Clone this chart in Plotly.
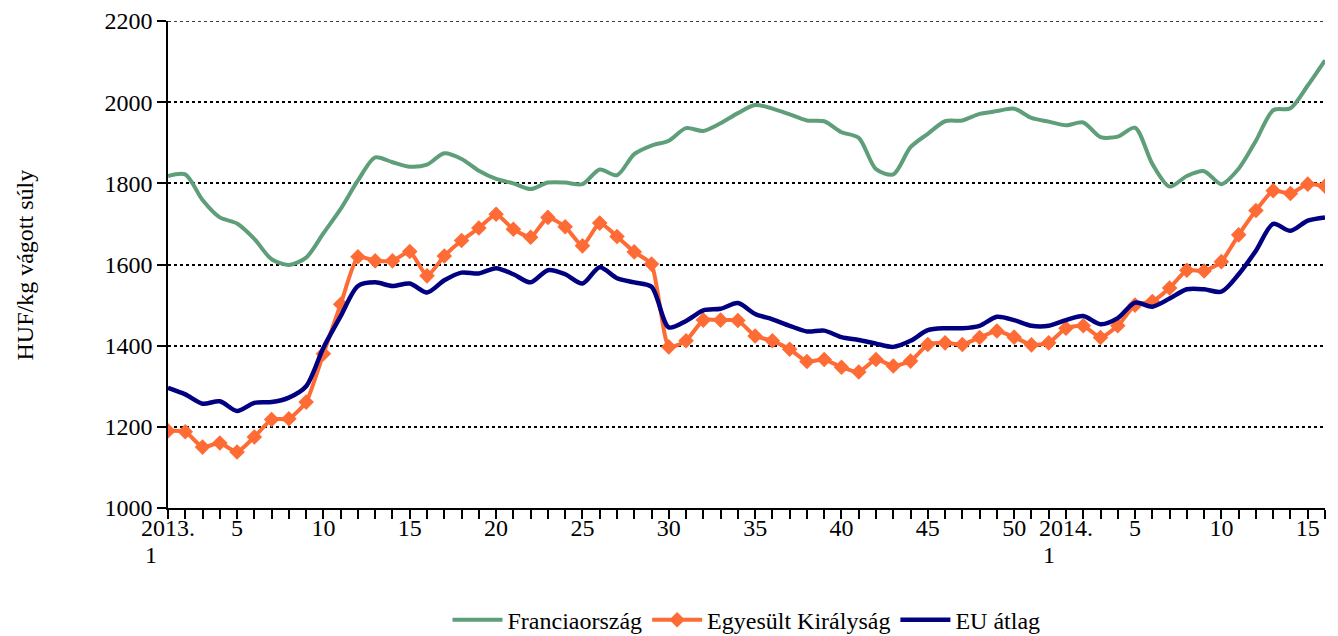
import plotly.graph_objects as go

# weeks: 2013 w1..w52, then 2014 w1..w16
weeks = list(range(1, 53)) + list(range(1, 17))
year_start = {0: "2013.", 52: "2014."}

france = [1818, 1822, 1759, 1716, 1701, 1663, 1613, 1599, 1617, 1677, 1737, 1807, 1864, 1852, 1841, 1846, 1874,
          1860, 1831, 1811, 1800, 1786, 1802, 1802, 1798, 1834, 1820, 1872, 1893, 1905, 1936, 1929, 1948, 1973,
          1993, 1984, 1970, 1955, 1953, 1926, 1912, 1835, 1822, 1889, 1922, 1953, 1955, 1971, 1978, 1984, 1961,
          1952, 1943, 1950, 1914, 1915, 1937, 1848, 1792, 1818, 1830, 1798, 1836, 1905, 1980, 1985, 2041, 2103]

uk = [1190, 1188, 1150, 1160, 1138, 1175, 1218, 1220, 1261, 1380, 1502, 1619, 1609, 1609, 1632, 1572, 1621,
      1659, 1690, 1724, 1687, 1667, 1716, 1693, 1646, 1702, 1669, 1631, 1601, 1397, 1412, 1463, 1463, 1462,
      1424, 1412, 1391, 1361, 1366, 1347, 1335, 1366, 1350, 1362, 1403, 1407, 1403, 1420, 1436, 1421, 1402,
      1407, 1443, 1449, 1420, 1449, 1500, 1509, 1542, 1586, 1584, 1607, 1673, 1733, 1782, 1775, 1798, 1793]

eu = [1296, 1280, 1257, 1263, 1239, 1259, 1261, 1272, 1300, 1395, 1473, 1547, 1556, 1547, 1553, 1531, 1561,
      1580, 1578, 1591, 1576, 1556, 1586, 1576, 1553, 1593, 1566, 1556, 1545, 1445, 1461, 1487, 1491, 1505,
      1478, 1465, 1449, 1435, 1437, 1421, 1414, 1405, 1397, 1412, 1438, 1443, 1443, 1449, 1471, 1463, 1449,
      1449, 1463, 1473, 1453, 1468, 1506, 1496, 1516, 1539, 1539, 1533, 1576, 1634, 1700, 1683, 1708, 1716]

x = list(range(len(weeks)))
tick_text = []
for i, w in enumerate(weeks):
    if i in year_start:
        tick_text.append(year_start[i])
    elif w % 5 == 0:
        tick_text.append(str(w))
    else:
        tick_text.append("")

FONT = "Liberation Serif, Times New Roman, serif"

fig = go.Figure()
fig.add_trace(go.Scatter(
    x=x, y=france, name="Franciaország", mode="lines",
    line=dict(color="#5E9E78", width=4, shape="spline", smoothing=0.8),
))
fig.add_trace(go.Scatter(
    x=x, y=uk, name="Egyesült Királyság", mode="lines+markers",
    line=dict(color="#FF6B35", width=4, shape="spline", smoothing=0.5),
    marker=dict(symbol="diamond", size=12, color="#FF6B35"),
))
fig.add_trace(go.Scatter(
    x=x, y=eu, name="EU átlag", mode="lines",
    line=dict(color="#000080", width=4.5, shape="spline", smoothing=0.8),
))

# second line ("1") under the year labels, tighter than plotly's <br> spacing
week_one = [dict(text="1", xref="x", x=i, yref="paper", y=-0.0965, xshift=-17,
                 xanchor="center", yanchor="middle", showarrow=False,
                 font=dict(family=FONT, size=24)) for i in year_start]

fig.update_layout(
    width=1338, height=636,
    paper_bgcolor="white",
    plot_bgcolor="white",
    font=dict(family=FONT, size=24, color="black"),
    margin=dict(l=168, r=13, t=21, b=128),
    showlegend=True,
    legend=dict(orientation="h", x=0.5, xanchor="center",
                yref="container", y=0.025, yanchor="middle",
                font=dict(family=FONT, size=24), itemwidth=50),
    xaxis=dict(
        range=[0, len(weeks) - 1],
        tickmode="array", tickvals=x, ticktext=tick_text,
        ticks="outside", ticklen=9, tickwidth=1.5, tickcolor="black",
        showline=True, linecolor="black", linewidth=1.5,
        showgrid=False, zeroline=False, tickangle=0, automargin=False,
        ticklabelstandoff=-12,
    ),
    yaxis=dict(
        range=[1000, 2200], dtick=200,
        ticks="outside", ticklen=9, tickwidth=1.5, tickcolor="black",
        showline=True, linecolor="black", linewidth=1.5,
        showgrid=True, gridcolor="black", gridwidth=1.5, griddash="3px,3px",
        zeroline=False, automargin=False,
    ),
    shapes=[dict(type="line", xref="paper", x0=0, x1=1, yref="y", y0=2200, y1=2200,
                 line=dict(color="black", width=1.5, dash="3px,3px"), layer="below")],
    annotations=[dict(
        text="HUF/kg vágott súly", textangle=-90,
        xref="paper", yref="paper", x=-0.1236, y=0.5,
        xanchor="center", yanchor="middle", showarrow=False,
        font=dict(family=FONT, size=24),
    )] + week_one,
)

fig.write_html("out.html", config={"displayModeBar": False},
               post_script="document.body.style.margin='0';")
